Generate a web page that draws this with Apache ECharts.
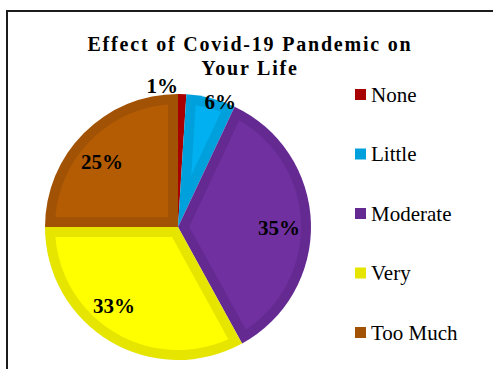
<!DOCTYPE html>
<html>
<head>
<meta charset="utf-8">
<script src="https://cdn.jsdelivr.net/npm/echarts@6/dist/echarts.min.js"></script>
<style>
  html, body { margin: 0; padding: 0; background: #ffffff; }
  #chart { width: 493px; height: 369px; }
</style>
</head>
<body>
<div id="chart"></div>
<script>
// Survey answers: how much the pandemic affected daily life (percent of respondents)
const categories = ['None', 'Little', 'Moderate', 'Very', 'Too Much'];
const shares = [1, 6, 35, 33, 25];
const titleLines = ['Effect of Covid-19 Pandemic on', 'Your Life'];

// Where each slice starts, in the same percent units as the shares
const starts = shares.map(function (v, i) {
  return shares.slice(0, i).reduce(function (a, b) { return a + b; }, 0);
});

// Slice styling: a lighter face set inside a darker rim
const faceColors = ['#C00000', '#00B0F0', '#7030A0', '#FFFF00', '#B45C04'];
const rimColors  = ['#A80000', '#00A0DC', '#642A92', '#E5E500', '#A25204'];
const pieCenter = [178, 227];
const pieRadius = 133;
const rimWidth = 10;

// Per-slice label nudges [dx, dy] away from the default inside anchor
const labelNudge = {
  'None': [-19, -39],
  'Little': [17, -26],
  'Moderate': [-1, 4],
  'Very': [-12, -9],
  'Too Much': [-4, 7]
};

const serif = 'Liberation Serif, Times New Roman, serif';

const chart = echarts.init(document.getElementById('chart'), null, { renderer: 'svg' });

// Spread the title letters a little, as in the printed figure
chart.on('finished', function () {
  chart.getDom().querySelectorAll('text').forEach(function (t) {
    if (titleLines.indexOf(t.textContent) >= 0) {
      t.style.letterSpacing = '1.8px';
    }
  });
});

// Face of one slice: its wedge pulled in by rimWidth from every edge
function renderFace(params, api) {
  const i = params.dataIndex;
  const share = shares[i];
  const start = starts[i];
  const theta = share / 100 * 2 * Math.PI;
  const outerR = pieRadius - rimWidth;
  if (theta >= Math.PI) return null;
  const apexR = rimWidth / Math.sin(theta / 2);
  if (apexR >= outerR) return null;
  const edgeOff = Math.asin(rimWidth / outerR) * 50 / Math.PI;
  const a0 = start + edgeOff;
  const a1 = start + share - edgeOff;
  const pts = [api.coord([apexR, start + share / 2])];
  const steps = 60;
  for (let k = 0; k <= steps; k++) {
    pts.push(api.coord([outerR, a0 + (a1 - a0) * k / steps]));
  }
  return {
    type: 'polygon',
    z2: 10,
    shape: { points: pts },
    style: { fill: faceColors[i] }
  };
}

const option = {
  animation: false,
  backgroundColor: '#ffffff',
  title: {
    text: titleLines.join('\n'),
    left: 250,
    top: 32,
    textAlign: 'center',
    padding: 0,
    textStyle: {
      fontFamily: serif,
      fontWeight: 'bold',
      fontSize: 20,
      lineHeight: 24,
      color: '#000000'
    }
  },
  legend: {
    orient: 'vertical',
    left: 355,
    top: 84,
    padding: 0,
    itemWidth: 11,
    itemHeight: 11,
    itemGap: 38.5,
    icon: 'rect',
    selectedMode: false,
    data: categories,
    textStyle: {
      fontFamily: serif,
      fontSize: 21,
      lineHeight: 20,
      color: '#000000'
    }
  },
  polar: { center: pieCenter, radius: pieRadius },
  angleAxis: { type: 'value', min: 0, max: 100, startAngle: 90, clockwise: true, show: false },
  radiusAxis: { type: 'value', min: 0, max: pieRadius, show: false },
  graphic: [{
    type: 'rect',
    silent: true,
    shape: { x: 7, y: 11, width: 520, height: 400 },
    style: { fill: 'none', stroke: '#1c1c1c', lineWidth: 2 }
  }],
  series: [
    {
      // darker rim of every slice
      type: 'pie',
      z: 2,
      center: pieCenter,
      radius: pieRadius,
      startAngle: 90,
      clockwise: true,
      silent: true,
      emphasis: { disabled: true },
      label: { show: false },
      labelLine: { show: false },
      data: categories.map(function (c, i) {
        return { name: c, value: shares[i], itemStyle: { color: rimColors[i] } };
      })
    },
    {
      // lighter faces
      type: 'custom',
      z: 3,
      coordinateSystem: 'polar',
      silent: true,
      clip: false,
      renderItem: renderFace,
      data: categories.map(function (c, i) {
        return { name: c, value: [shares[i], starts[i]] };
      })
    },
    {
      // percentage labels
      type: 'pie',
      z: 4,
      center: pieCenter,
      radius: [66, 132],
      startAngle: 90,
      clockwise: true,
      silent: true,
      emphasis: { disabled: true },
      itemStyle: { color: 'rgba(0,0,0,0)', borderWidth: 0 },
      labelLine: { show: false },
      label: {
        show: true,
        position: 'inside',
        formatter: '{c}%',
        fontFamily: serif,
        fontWeight: 'bold',
        fontSize: 21,
        color: '#000000'
      },
      labelLayout: function (params) {
        const n = labelNudge[categories[params.dataIndex]];
        return { dx: n[0], dy: n[1] };
      },
      data: categories.map(function (c, i) {
        return { name: c, value: shares[i] };
      })
    }
  ]
};

chart.setOption(option);
</script>
</body>
</html>
